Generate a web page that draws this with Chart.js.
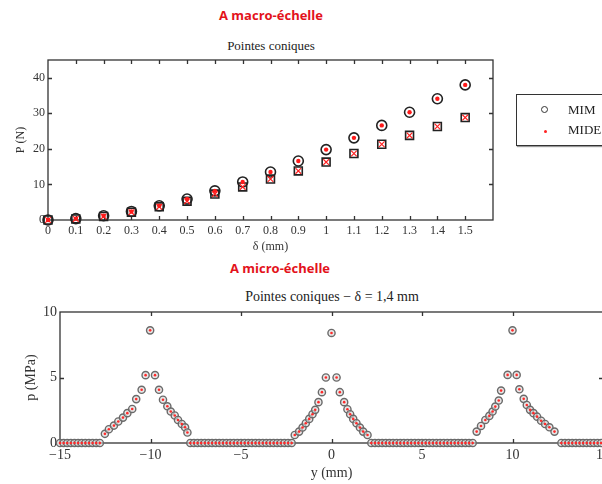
<!DOCTYPE html>
<html>
<head>
<meta charset="utf-8">
<script src="https://cdn.jsdelivr.net/npm/chart.js@4.4.0/dist/chart.umd.min.js"></script>
<style>
body { margin:0; width:602px; height:484px; overflow:hidden; background:#fff; position:relative; font-family:"Liberation Serif", serif; }
canvas { position:absolute; left:0; }
#macro { top:0; }
#micro { top:260px; }
.head { position:absolute; color:#e3121b; font:bold 13px/16px "Open Sans", sans-serif; transform:translateX(-50%); white-space:nowrap; }
.sub { position:absolute; color:#222; font:13px/16px "Liberation Serif", serif; transform:translateX(-50%); white-space:nowrap; }
#legend { position:absolute; left:516px; top:94px; width:130px; height:50px; border:1.5px solid #333; box-shadow:1px 1px 1px #999; }
.lg { position:absolute; font:13px/16px "Liberation Serif", serif; color:#222; }
.mk { position:absolute; box-sizing:border-box; border-radius:50%; }
</style>
</head>
<body>
<div class="head" style="left:271px; top:7px;">A macro-échelle</div>
<div class="sub" style="left:271px; top:38px;">Pointes coniques</div>
<canvas id="macro" width="520" height="255"></canvas>
<div id="legend"></div>
<div class="mk" style="left:541px; top:106px; width:7px; height:7px; border:1.5px solid #333;"></div>
<div class="mk" style="left:543.5px; top:129.5px; width:3px; height:3px; background:#f22;"></div>
<div class="lg" id="lg0" style="left:568px; top:102px;"></div>
<div class="lg" id="lg1" style="left:568px; top:122px;"></div>

<div class="head" style="left:280px; top:260px;">A micro-échelle</div>
<div class="sub" style="left:332px; top:289px; font-size:14px;">Pointes coniques − δ = 1,4 mm</div>
<canvas id="micro" width="660" height="224"></canvas>

<script>
// --- macro scale: force vs indentation
var seriesNames = ['MIM', 'MIDE'];
var delta = [0, 0.1, 0.2, 0.3, 0.4, 0.5, 0.6, 0.7, 0.8, 0.9, 1.0, 1.1, 1.2, 1.3, 1.4, 1.5];
var pHigh = [0, 0.4, 1.2, 2.4, 4.0, 5.9, 8.2, 10.7, 13.5, 16.6, 19.8, 23.1, 26.6, 30.3, 34.1, 38.0];
var pLow = [0, 0.3, 1.0, 2.2, 3.7, 5.3, 7.3, 9.3, 11.5, 13.8, 16.3, 18.7, 21.3, 23.8, 26.3, 28.8];
var deltaTicks = [0, 0.1, 0.2, 0.3, 0.4, 0.5, 0.6, 0.7, 0.8, 0.9, 1, 1.1, 1.2, 1.3, 1.4, 1.5];
var forceTicks = [0, 10, 20, 30, 40];

// --- micro scale: pressure profile along y
var yMicro = [
	-15.0, -14.8, -14.6, -14.4, -14.2, -14.0, -13.8, -13.6, -13.4, -13.2, -13.0, -12.8,
	-12.52, -12.30, -12.02, -11.78, -11.52, -11.28, -11.01, -10.79, -10.49, -10.27, -10.02,
	-9.75, -9.53, -9.31, -9.07, -8.88, -8.66, -8.48, -8.27, -8.09, -7.96,
	-7.8, -7.6, -7.4, -7.2, -7.0, -6.8, -6.6, -6.4, -6.2, -6.0, -5.8, -5.6, -5.4, -5.2, -5.0,
	-4.8, -4.6, -4.4, -4.2, -4.0, -3.8, -3.6, -3.4, -3.2, -3.0, -2.8, -2.6, -2.4, -2.2,
	-2.03, -1.79, -1.60, -1.42, -1.23, -1.05, -0.90, -0.72, -0.53, -0.31, 0.0,
	0.28, 0.46, 0.70, 0.88, 1.03, 1.20, 1.38, 1.57, 1.75, 1.99,
	2.2, 2.4, 2.6, 2.8, 3.0, 3.2, 3.4, 3.6, 3.8, 4.0, 4.2, 4.4, 4.6, 4.8, 5.0,
	5.2, 5.4, 5.6, 5.8, 6.0, 6.2, 6.4, 6.6, 6.8, 7.0, 7.2, 7.4, 7.6, 7.8,
	8.02, 8.26, 8.50, 8.72, 8.90, 9.05, 9.24, 9.37, 9.73, 10.0,
	10.23, 10.38, 10.62, 10.79, 10.97, 11.16, 11.36, 11.58, 11.80, 12.04, 12.32,
	12.7, 12.9, 13.1, 13.3, 13.5, 13.7, 13.9, 14.1, 14.3, 14.5, 14.7, 14.9
];
var pMicro = [
	0, 0, 0, 0, 0, 0, 0, 0, 0, 0, 0, 0,
	0.70, 1.05, 1.33, 1.64, 1.94, 2.28, 2.60, 3.35, 4.06, 5.18, 8.60,
	5.18, 4.06, 3.30, 2.80, 2.40, 2.10, 1.76, 1.45, 1.20, 0.80,
	0, 0, 0, 0, 0, 0, 0, 0, 0, 0, 0, 0, 0, 0, 0,
	0, 0, 0, 0, 0, 0, 0, 0, 0, 0, 0, 0, 0, 0,
	0.61, 0.87, 1.18, 1.51, 1.84, 2.20, 2.53, 3.12, 3.88, 5.00, 8.40,
	5.00, 3.88, 3.12, 2.58, 2.20, 1.84, 1.51, 1.18, 0.87, 0.61,
	0, 0, 0, 0, 0, 0, 0, 0, 0, 0, 0, 0, 0, 0, 0,
	0, 0, 0, 0, 0, 0, 0, 0, 0, 0, 0, 0, 0, 0,
	0.87, 1.30, 1.76, 2.07, 2.40, 2.78, 3.24, 4.00, 5.20, 8.60,
	5.20, 4.10, 3.37, 2.90, 2.53, 2.28, 2.01, 1.70, 1.45, 1.20, 0.87,
	0, 0, 0, 0, 0, 0, 0, 0, 0, 0, 0, 0
];
var yTicks = [-15, -10, -5, 0, 5, 10, 15];
var pTicks = [0, 5, 10];

function pts(xs, ys) {
	return xs.map(function(x, i) { return {x: x, y: ys[i]}; });
}

// matlab like frame with inward ticks
var framePlugin = {
	id: 'frame',
	beforeDatasetsDraw: function(chart, args, opts) {
		var ctx = chart.ctx, a = chart.chartArea,
			sx = chart.scales.x, sy = chart.scales.y, len = opts.len;
		ctx.save();
		ctx.strokeStyle = '#333';
		ctx.lineWidth = 1.3;
		ctx.strokeRect(a.left, a.top, a.right - a.left, a.bottom - a.top);
		ctx.beginPath();
		opts.xTicks.forEach(function(v) {
			var px = Math.round(sx.getPixelForValue(v)) + 0.5;
			if (px <= a.left + 1 || px >= a.right - 1) return;
			ctx.moveTo(px, a.bottom); ctx.lineTo(px, a.bottom - len);
			ctx.moveTo(px, a.top); ctx.lineTo(px, a.top + len);
		});
		opts.yTicks.forEach(function(v) {
			var py = Math.round(sy.getPixelForValue(v)) + 0.5;
			if (py <= a.top + 1 || py >= a.bottom - 1) return;
			ctx.moveTo(a.left, py); ctx.lineTo(a.left + len, py);
			ctx.moveTo(a.right, py); ctx.lineTo(a.right - len, py);
		});
		ctx.stroke();
		ctx.restore();
	}
};

function axis(opts) {
	return {
		type: 'linear',
		min: opts.min,
		max: opts.max,
		grid: { display: false, drawTicks: false },
		border: { display: false },
		afterBuildTicks: function(s) {
			s.ticks = opts.ticks.map(function(v) { return {value: v}; });
		},
		afterFit: function(s) {
			if (s.isHorizontal()) s.height = opts.size; else s.width = opts.size;
		},
		ticks: {
			padding: opts.pad,
			color: '#333',
			font: { family: 'Liberation Serif', size: opts.font },
			callback: function(v) { return String(v).replace('-', '\u2212'); }
		},
		title: {
			display: true,
			text: opts.title,
			color: '#333',
			font: { family: 'Liberation Serif', size: opts.font },
			padding: opts.titlePad
		}
	};
}

new Chart(document.getElementById('macro').getContext('2d'), {
	type: 'scatter',
	data: {
		datasets: [{
			label: seriesNames[1],
			data: pts(delta, pHigh),
			pointStyle: 'circle', pointRadius: 2.2, pointBorderWidth: 0,
			pointBackgroundColor: '#ff1a1a', clip: false
		}, {
			label: seriesNames[1],
			data: pts(delta, pLow),
			pointStyle: 'crossRot', pointRadius: 4, pointBorderWidth: 1.2,
			pointBorderColor: '#ff2020', clip: false
		}, {
			label: seriesNames[0],
			data: pts(delta, pHigh),
			pointStyle: 'circle', pointRadius: 5, pointBorderWidth: 1.6,
			pointBorderColor: '#222', pointBackgroundColor: 'rgba(0,0,0,0)', clip: false
		}, {
			label: seriesNames[0],
			data: pts(delta, pLow),
			pointStyle: 'rect', pointRadius: 5.6, pointBorderWidth: 1.6,
			pointBorderColor: '#222', pointBackgroundColor: 'rgba(0,0,0,0)', clip: false
		}]
	},
	options: {
		responsive: false,
		animation: false,
		layout: { padding: { top: 60, right: 27, left: 0, bottom: 0 } },
		scales: {
			x: axis({ min: 0, max: 1.6, ticks: deltaTicks, size: 35, pad: 4, font: 12, title: 'δ (mm)', titlePad: { top: 0, bottom: 1 } }),
			y: axis({ min: 0, max: 45, ticks: forceTicks, size: 48, pad: 3, font: 12, title: 'P (N)', titlePad: { top: 14, bottom: 0 } })
		},
		plugins: {
			legend: { display: false },
			tooltip: { enabled: false },
			frame: { len: 4, xTicks: deltaTicks, yTicks: forceTicks }
		}
	},
	plugins: [framePlugin]
});

new Chart(document.getElementById('micro').getContext('2d'), {
	type: 'scatter',
	data: {
		datasets: [{
			label: seriesNames[1],
			data: pts(yMicro, pMicro),
			pointStyle: 'circle', pointRadius: 1.3, pointBorderWidth: 0,
			pointBackgroundColor: '#ff2a2a', clip: false
		}, {
			label: seriesNames[0],
			data: pts(yMicro, pMicro),
			pointStyle: 'circle', pointRadius: 3.6, pointBorderWidth: 1.4,
			pointBorderColor: '#6a6a6a', pointBackgroundColor: 'rgba(215,215,215,0.6)', clip: false
		}]
	},
	options: {
		responsive: false,
		animation: false,
		layout: { padding: { top: 52, right: 57, left: 0, bottom: 0 } },
		scales: {
			x: axis({ min: -15, max: 15, ticks: yTicks, size: 41, pad: 4, font: 14, title: 'y (mm)', titlePad: { top: 0, bottom: 2 } }),
			y: axis({ min: 0, max: 10, ticks: pTicks, size: 60, pad: 3, font: 14, title: 'p (MPa)', titlePad: { top: 23, bottom: 0 } })
		},
		plugins: {
			legend: { display: false },
			tooltip: { enabled: false },
			frame: { len: 4, xTicks: yTicks, yTicks: pTicks }
		}
	},
	plugins: [framePlugin]
});

document.getElementById('lg0').textContent = seriesNames[0];
document.getElementById('lg1').textContent = seriesNames[1];
</script>
</body>
</html>
